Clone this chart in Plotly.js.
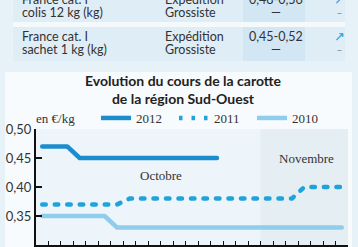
<!DOCTYPE html>
<html><head><meta charset="utf-8">
<script src="https://cdn.plot.ly/plotly-3.0.1.min.js"></script>
<style>
html,body{margin:0;padding:0;background:#e6f1f8;}
#chart{width:358px;height:247px;}
.scatterlayer .js-line{stroke-linecap:round;stroke-linejoin:round;}
</style></head>
<body><div id="chart"></div>
<script>
// ---- data ----
const days2012 = [1,2,3,4,5,6,7,8,9,10,11,12,13,14,15];
const price2012 = [0.47,0.47,0.47,0.45,0.45,0.45,0.45,0.45,0.45,0.45,0.45,0.45,0.45,0.45,0.45];
const days2011 = [1,2,3,4,5,6,7,8,9,10,11,12,13,14,15,16,17,18,19,20,21,22,23,24,25];
const price2011 = [0.37,0.37,0.37,0.37,0.37,0.37,0.37,0.38,0.38,0.38,0.38,0.38,0.38,0.38,0.38,0.38,0.38,0.38,0.38,0.38,0.38,0.40,0.40,0.40,0.40];
const days2010 = [1,2,3,4,5,6,7,8,9,10,11,12,13,14,15,16,17,18,19,20,21,22,23,24,25];
const price2010 = [0.35,0.35,0.35,0.35,0.35,0.35,0.33,0.33,0.33,0.33,0.33,0.33,0.33,0.33,0.33,0.33,0.33,0.33,0.33,0.33,0.33,0.33,0.33,0.33,0.33];
const seriesNames = ['2012','2011','2010'];
const monthLabels = ['Octobre','Novembre'];
const novemberStart = 18.5, periodEnd = 25.5;
const yTicks = [0.30,0.35,0.40,0.45,0.50];
const tableRows = [
  {product:['France cat. I','colis 12 kg (kg)'], stage:['Expédition','Grossiste'], price:['0,48-0,56','—'], trend:['↗','–']},
  {product:['France cat. I','sachet 1 kg (kg)'], stage:['Expédition','Grossiste'], price:['0,45-0,52','—'], trend:['↗','–']}
];

// ---- pixel helpers for decoration (paper coords) ----
const PL=36, PR=348, PT=129, PB=245;
const px = p => (p-PL)/(PR-PL);
const py = p => (PB-p)/(PB-PT);

const sans = 'Lato, "Open Sans", sans-serif';
const serif = '"Liberation Serif", "DejaVu Serif", serif';

const traces = [
  {x:days2012, y:price2012, name:seriesNames[0], mode:'lines', line:{color:'#1b8ccc', width:4.5}},
  {x:days2011, y:price2011, name:seriesNames[1], mode:'lines', line:{color:'#1fa3da', width:4.5, dash:'3.5px,9px'}},
  {x:days2010, y:price2010, name:seriesNames[2], mode:'lines', line:{color:'#8fcdec', width:4.5}}
];

const shapes = [
  {type:'rect', xref:'paper', yref:'paper', x0:px(-5), x1:px(365), y0:py(72), y1:py(-5), fillcolor:'#e6f1f8', line:{width:0}, layer:'below'},
  {type:'rect', xref:'paper', yref:'paper', x0:px(-5), x1:px(5), y0:py(260), y1:py(72), fillcolor:'#e6f1f8', line:{width:0}, layer:'below'},
  {type:'rect', xref:'paper', yref:'paper', x0:px(352), x1:px(365), y0:py(260), y1:py(72), fillcolor:'#e6f1f8', line:{width:0}, layer:'below'},
  {type:'rect', xref:'paper', yref:'paper', x0:px(13), x1:px(345), y0:py(22), y1:py(-10), fillcolor:'#dfedf7', line:{width:0}, layer:'below'},
  {type:'rect', xref:'paper', yref:'paper', x0:px(13), x1:px(345), y0:py(61), y1:py(27), fillcolor:'#dfedf7', line:{width:0}, layer:'below'},
  {type:'rect', xref:'paper', yref:'paper', x0:px(243), x1:px(305), y0:py(22), y1:py(-10), fillcolor:'#d3e6f3', line:{width:0}, layer:'below'},
  {type:'rect', xref:'paper', yref:'paper', x0:px(243), x1:px(305), y0:py(61), y1:py(27), fillcolor:'#d3e6f3', line:{width:0}, layer:'below'},
  {type:'rect', xref:'paper', yref:'paper', x0:px(13), x1:px(345), y0:py(27), y1:py(22), fillcolor:'#f4f9fc', line:{width:0}, layer:'below'},
  {type:'rect', xref:'x', yref:'paper', x0:novemberStart, x1:periodEnd, y0:0, y1:1, fillcolor:'#e5eef3', line:{width:0}, layer:'below'}
];

const annotations = [
  {xref:'paper', yref:'paper', x:px(34), y:py(118), xanchor:'left', yanchor:'middle', text:'en €/kg', showarrow:false, font:{family:serif, size:13, color:'#333'}},
  {xref:'x', yref:'y', x:10.5, y:0.419, text:monthLabels[0], showarrow:false, font:{family:serif, size:13, color:'#333'}},
  {xref:'x', yref:'y', x:22.2, y:0.45, text:monthLabels[1], showarrow:false, font:{family:serif, size:13, color:'#333'}}
];
const rowY = [[-1,12.5],[36.5,50]];
tableRows.forEach((r,i)=>{
  for(let l=0;l<2;l++){
    const yy = py(rowY[i][l]);
    annotations.push({xref:'paper', yref:'paper', x:px(20), y:yy, xanchor:'left', yanchor:'middle', text:r.product[l], showarrow:false, font:{family:sans, size:12.5, color:'#333'}});
    annotations.push({xref:'paper', yref:'paper', x:px(163), y:yy, xanchor:'left', yanchor:'middle', text:r.stage[l], showarrow:false, font:{family:sans, size:12.5, color:'#333'}});
    annotations.push({xref:'paper', yref:'paper', x:px(276), y:yy, xanchor:'center', yanchor:'middle', text:r.price[l], showarrow:false, font:{family:sans, size:12.5, color:'#333'}});
    annotations.push({xref:'paper', yref:'paper', x:px(339), y:yy, xanchor:'center', yanchor:'middle', text:r.trend[l], showarrow:false, font:{family:'"DejaVu Sans", sans-serif', size:l===0?13:10, color:l===0?'#2e9ad6':'#888'}});
  }
});

const layout = {
  width:358, height:247,
  margin:{l:PL, r:358-PR, t:PT, b:247-PB, pad:0},
  paper_bgcolor:'#f7fbfd', plot_bgcolor:'#edf5fa',
  separators:', ',
  showlegend:true,
  legend:{orientation:'h', x:px(96), y:py(118), xanchor:'left', yanchor:'middle', bgcolor:'rgba(0,0,0,0)', font:{family:serif, size:13, color:'#333'}, itemwidth:30, entrywidth:33, entrywidthmode:'pixels', traceorder:'normal'},
  title:{text:'<b>Evolution du cours de la carotte</b><br><b>de la région Sud-Ouest</b>', xref:'container', yref:'container', x:183/358, xanchor:'center', y:1-86/247, yanchor:'middle', font:{family:sans, size:14, color:'#222'}},
  xaxis:{range:[0.5,25.5], showgrid:false, zeroline:false, showline:true, linecolor:'#111', linewidth:1.5, ticks:'inside', ticklen:4, tickwidth:1, tickcolor:'#111', tickmode:'linear', tick0:0.5, dtick:1, showticklabels:false, fixedrange:true},
  yaxis:{range:[0.30,0.50], showgrid:false, zeroline:false, showline:true, linecolor:'#111', linewidth:2, ticks:'inside', ticklen:6, tickwidth:2, tickcolor:'#111', tickvals:yTicks, tickformat:'.2f', tickfont:{family:sans, size:13, color:'#333'}, fixedrange:true},
  shapes:shapes, annotations:annotations
};
Plotly.newPlot('chart', traces, layout, {displayModeBar:false, staticPlot:true});
</script></body></html>
